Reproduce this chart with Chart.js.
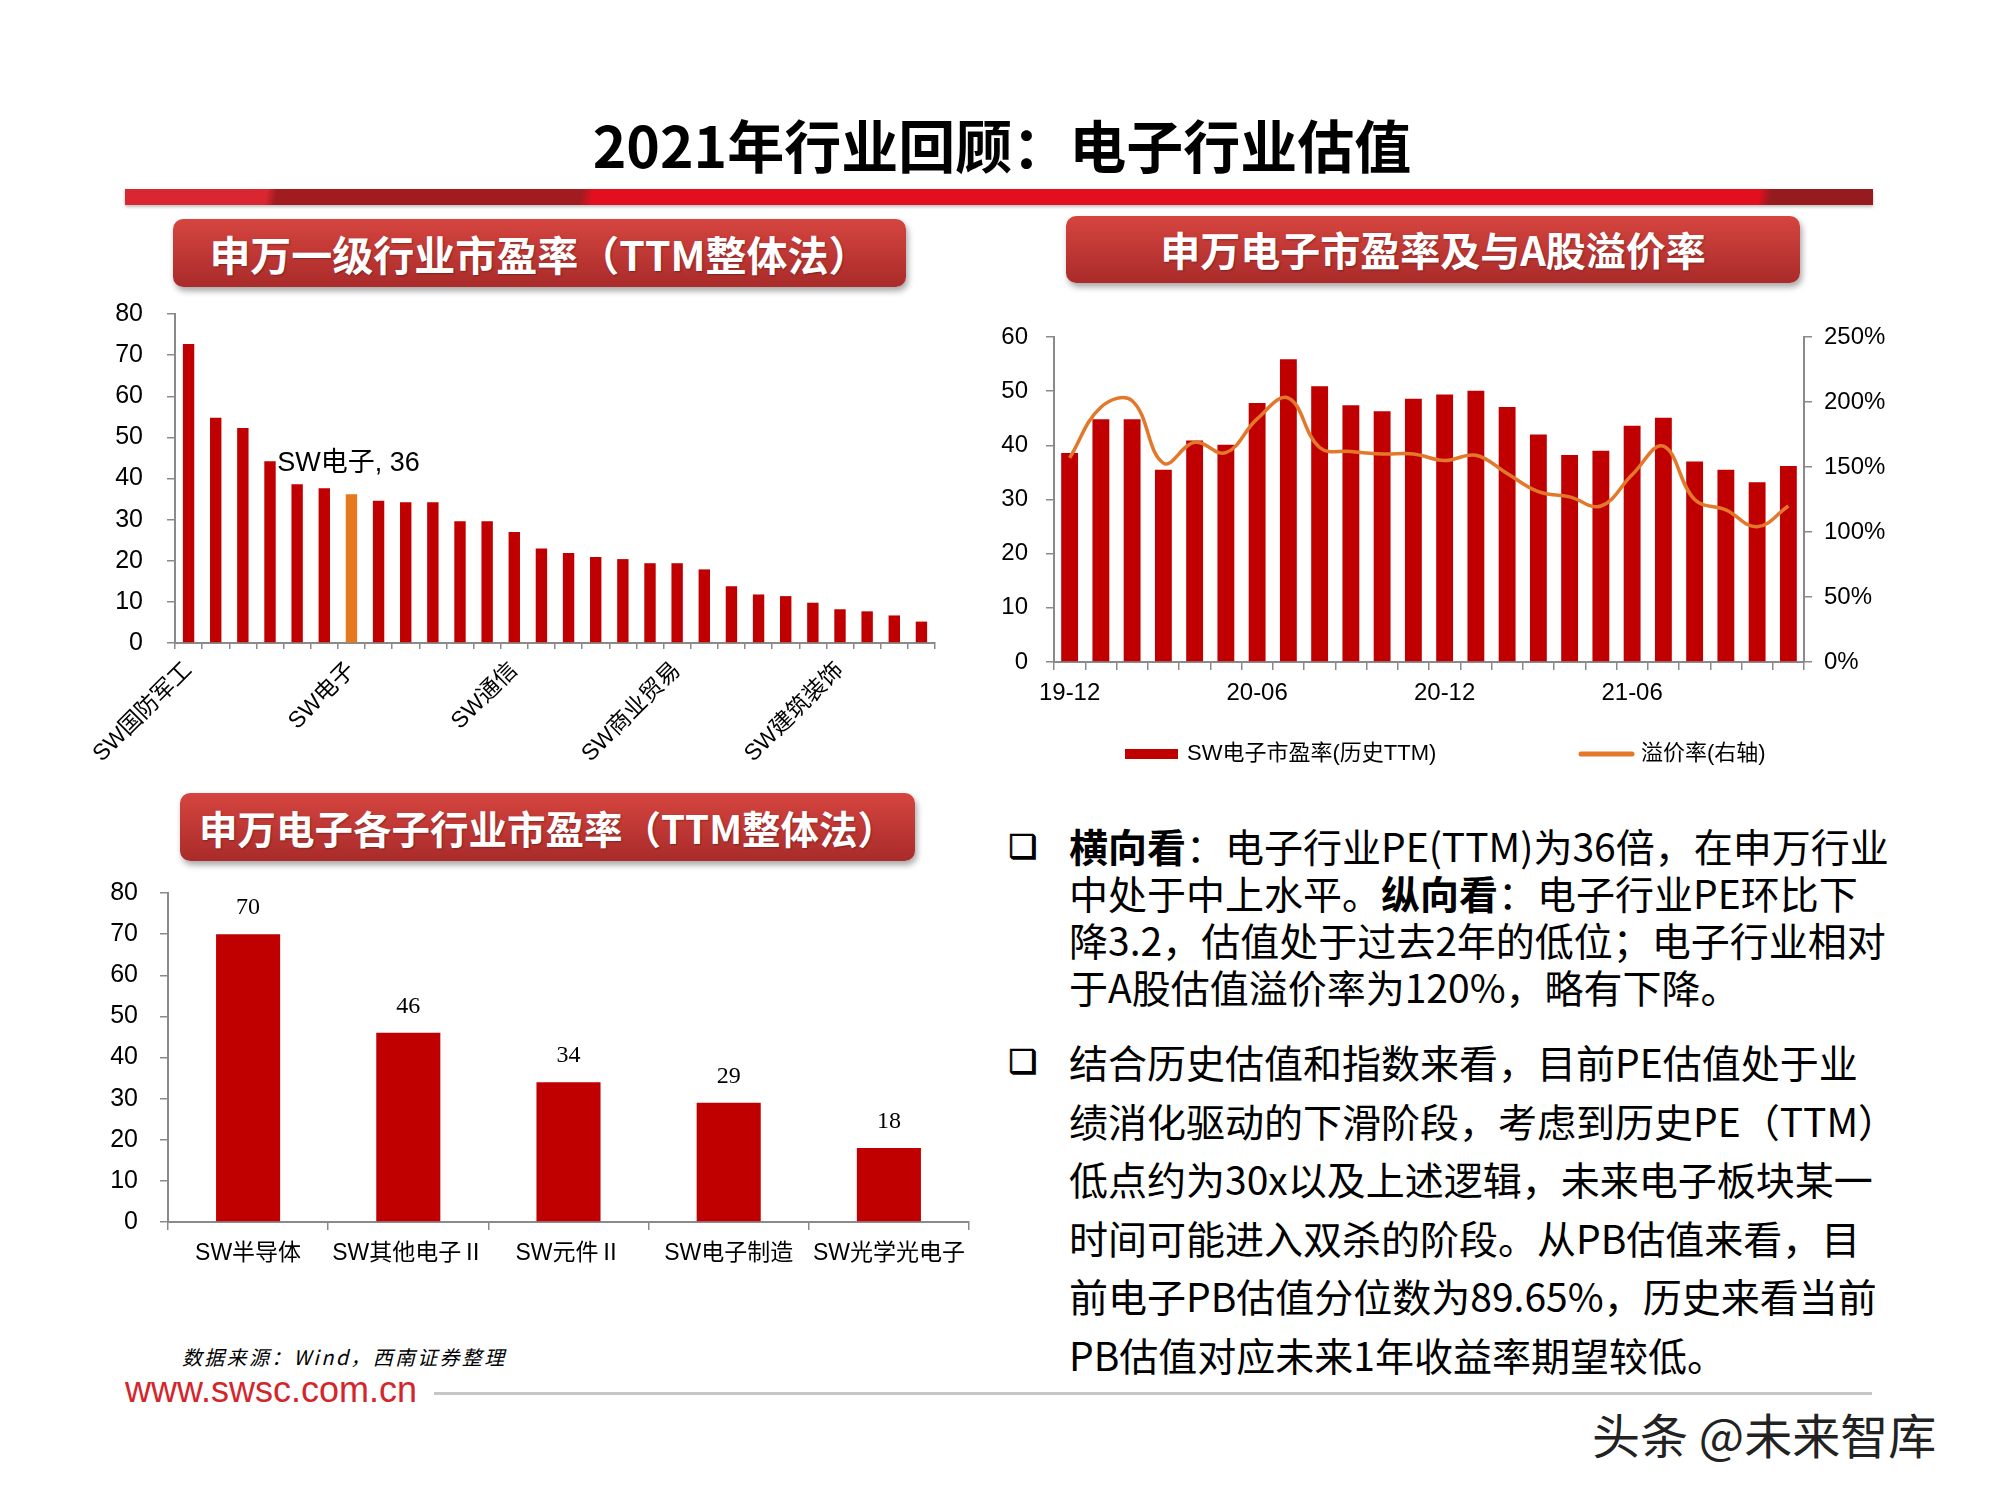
<!DOCTYPE html>
<html lang="zh-CN">
<head>
<meta charset="utf-8">
<title>2021年行业回顾：电子行业估值</title>
<script src="https://cdn.jsdelivr.net/npm/chart.js@4.4.1/dist/chart.umd.min.js"></script>
<style>
  body { margin: 0; width: 2000px; height: 1500px; background: #fff; position: relative; overflow: hidden;
         font-family: 'Noto Sans CJK SC', sans-serif; color: #000; }
  .abs { position: absolute; }
  #title { left: 0; width: 2004px; top: 106px; text-align: center; font-size: 57px; font-weight: 700; line-height: 74px; }
  #stripe { left: 125px; top: 189px; width: 1748px; height: 16px;
            background: linear-gradient(100deg, #d92630 0px, #d92630 140px, #a11c20 150px, #a11c20 450px, #e40f1e 462px, #e40f1e 1610px, #951b1f 1622px, #951b1f 1748px);
            box-shadow: 0 2px 3px rgba(0,0,0,0.25); }
  .banner { position: absolute; border-radius: 10px; background: linear-gradient(#d6453f, #a92b2a);
            box-shadow: 2px 4px 6px rgba(0,0,0,0.35); color: #fff; font-weight: 700; text-align: center;
            text-shadow: 1px 1px 2px rgba(0,0,0,0.3); white-space: nowrap; }
  canvas { position: absolute; }
  .bullet { position: absolute; font-family: 'DejaVu Sans', sans-serif; font-weight: 700; font-size: 32px; line-height: 40px;
            text-shadow: 1px 1px 0 #000; }
  .para { position: absolute; left: 1069px; font-size: 39px; white-space: nowrap; }
  .para b { font-weight: 700; }
</style>
</head>
<body>
<div id="title" class="abs">2021年行业回顾：电子行业估值</div>
<div id="stripe" class="abs"></div>

<div class="banner" style="left:173px; top:219px; width:733px; height:68px; line-height:68px; font-size:41px;">申万一级行业市盈率（TTM整体法）</div>
<div class="banner" style="left:1066px; top:216px; width:734px; height:67px; line-height:67px; font-size:40px;">申万电子市盈率及与A股溢价率</div>
<div class="banner" style="left:180px; top:793px; width:735px; height:68px; line-height:68px; font-size:38.5px;">申万电子各子行业市盈率（TTM整体法）</div>

<canvas id="industryChart" width="870" height="490" style="left:80px; top:290px;"></canvas>
<canvas id="elecChart" width="940" height="480" style="left:960px; top:310px;"></canvas>
<canvas id="subChart" width="900" height="420" style="left:100px; top:870px;"></canvas>

<div class="bullet" style="left:1008px; top:826px;">❑</div>
<div class="para" style="top:822px; line-height:47px;">
<b>横向看</b>：电子行业PE(TTM)为36倍，在申万行业<br>
中处于中上水平。<b>纵向看</b>：电子行业PE环比下<br>
降3.2，估值处于过去2年的低位；电子行业相对<br>
于A股估值溢价率为120%，略有下降。
</div>
<div class="bullet" style="left:1008px; top:1041px;">❑</div>
<div class="para" style="top:1032px; line-height:58.5px;">
结合历史估值和指数来看，目前PE估值处于业<br>
绩消化驱动的下滑阶段，考虑到历史PE（TTM）<br>
低点约为30x以及上述逻辑，未来电子板块某一<br>
时间可能进入双杀的阶段。从PB估值来看，目<br>
前电子PB估值分位数为89.65%，历史来看当前<br>
PB估值对应未来1年收益率期望较低。
</div>

<div class="abs" style="left:182px; top:1343px; font-size:20px; line-height:28px; font-style:italic; letter-spacing:2.3px;">数据来源：Wind，西南证券整理</div>
<div class="abs" style="left:125px; top:1368px; font-family:'Liberation Sans', Arial, sans-serif; font-size:36px; line-height:44px; color:#d3262c;">www.swsc.com.cn</div>
<div class="abs" style="left:434px; top:1392px; width:1438px; height:3px; background:#c6c6c6;"></div>
<div class="abs" style="left:1592px; top:1403px; font-size:48px; line-height:60px; color:#222;">头条 @未来智库</div>

<script>
// 申万一级行业市盈率（TTM整体法），只标出图上可见的行业名
const industryNames = ['SW国防军工', '', '', '', '', '', 'SW电子', '', '', '', '', '', 'SW通信', '', '',
                       '', '', '', 'SW商业贸易', '', '', '', '', '', 'SW建筑装饰', '', '', ''];
const industryPE = [72.7, 54.8, 52.3, 44.2, 38.6, 37.6, 36.2, 34.6, 34.2, 34.2, 29.6, 29.6, 27.0, 23.0,
                    21.9, 20.9, 20.4, 19.4, 19.4, 17.9, 13.8, 11.8, 11.4, 9.8, 8.2, 7.7, 6.7, 5.2];
const highlightIndex = 6; // SW电子

// 申万电子市盈率及与A股溢价率
const monthLabels = ['19-12', '20-01', '20-02', '20-03', '20-04', '20-05', '20-06', '20-07', '20-08', '20-09',
                     '20-10', '20-11', '20-12', '21-01', '21-02', '21-03', '21-04', '21-05', '21-06', '21-07',
                     '21-08', '21-09', '21-10', '21-11'];
const elecPE = [38.6, 44.8, 44.8, 35.5, 40.9, 40.1, 47.8, 55.9, 50.9, 47.4, 46.3, 48.6, 49.4, 50.1, 47.1, 42.0,
                38.2, 39.0, 43.6, 45.1, 37.0, 35.5, 33.2, 36.2];
const premiumRate = [157, 196, 201, 153, 169, 161, 187, 203, 165, 162, 160, 160, 155, 159, 145, 131, 127, 120,
                     144, 166, 125, 117, 104, 120];

// 申万电子各子行业市盈率
const subNames = ['SW半导体', 'SW其他电子Ⅱ', 'SW元件Ⅱ', 'SW电子制造', 'SW光学光电子'];
const subPE = [70, 46, 34, 29, 18];

const RED = '#C00000';
const ORANGE = '#E6781E';
const AXIS = '#8a8a8a';

Chart.defaults.font.family = "'Liberation Sans', Arial, 'Noto Sans CJK SC', sans-serif";
Chart.defaults.color = '#000';

function axisGrid(len) {
    return { drawOnChartArea: false, drawTicks: true, tickLength: len, color: AXIS, lineWidth: 1.5 };
}
const axisBorder = { display: true, color: AXIS, width: 2 };

// 固定坐标轴占位，免得标签把绘图区挤偏
function fixWidth(w) {
    return s => { s.width = w; s.paddingTop = 0; s.paddingBottom = 0; };
}
function fixHeight(h) {
    return s => { s.height = h; s.paddingLeft = 0; s.paddingRight = 0; };
}

// "SW电子, 36" 标注
const elecLabel = {
    id: 'elecLabel',
    afterDatasetsDraw(chart) {
        const bar = chart.getDatasetMeta(0).data[highlightIndex];
        const step = chart.scales.x.width / industryNames.length;
        const ctx = chart.ctx;
        ctx.save();
        ctx.font = "27px 'Liberation Sans', Arial, 'Noto Sans CJK SC', sans-serif";
        ctx.fillStyle = '#000';
        ctx.textAlign = 'left';
        ctx.textBaseline = 'middle';
        ctx.fillText(`${industryNames[highlightIndex]}, ${Math.round(industryPE[highlightIndex])}`, bar.x - 2.73 * step, bar.y - 31);
        ctx.restore();
    }
};

new Chart(document.getElementById('industryChart'), {
    type: 'bar',
    data: {
        labels: industryNames,
        datasets: [{
            data: industryPE,
            backgroundColor: industryPE.map((v, i) => i === highlightIndex ? ORANGE : RED),
            barPercentage: 0.42,
            categoryPercentage: 1
        }]
    },
    options: {
        responsive: false,
        animation: false,
        layout: { padding: { top: 24, right: 15 } },
        plugins: { legend: { display: false }, tooltip: { enabled: false } },
        scales: {
            x: {
                grid: axisGrid(6),
                border: axisBorder,
                ticks: { autoSkip: false, minRotation: 45, maxRotation: 45, padding: 8, font: { size: 23 } },
                afterFit: fixHeight(137)
            },
            y: {
                min: 0, max: 80,
                grid: axisGrid(8),
                border: axisBorder,
                ticks: { stepSize: 10, padding: 24, font: { size: 25 } },
                afterFit: fixWidth(95)
            }
        }
    },
    plugins: [elecLabel]
});

// 自绘图例
const comboLegend = {
    id: 'comboLegend',
    afterDraw(chart) {
        const ds = chart.data.datasets;
        const y = chart.chartArea.bottom + 92;
        const ctx = chart.ctx;
        ctx.save();
        ctx.fillStyle = ds[0].backgroundColor;
        ctx.fillRect(165, y - 5, 53, 10);
        ctx.strokeStyle = ds[1].borderColor;
        ctx.lineWidth = 5;
        ctx.lineCap = 'round';
        ctx.beginPath();
        ctx.moveTo(621, y);
        ctx.lineTo(672, y);
        ctx.stroke();
        ctx.font = "22px 'Liberation Sans', Arial, 'Noto Sans CJK SC', sans-serif";
        ctx.fillStyle = '#000';
        ctx.textBaseline = 'middle';
        ctx.fillText(ds[0].label, 227, y);
        ctx.fillText(ds[1].label, 681, y);
        ctx.restore();
    }
};

new Chart(document.getElementById('elecChart'), {
    type: 'bar',
    data: {
        labels: monthLabels,
        datasets: [{
            type: 'bar',
            label: 'SW电子市盈率(历史TTM)',
            data: elecPE,
            backgroundColor: RED,
            barPercentage: 0.54,
            categoryPercentage: 1,
            yAxisID: 'y',
            order: 1
        }, {
            type: 'line',
            label: '溢价率(右轴)',
            data: premiumRate,
            borderColor: '#E3782A',
            borderWidth: 3.5,
            pointRadius: 0,
            tension: 0.4,
            yAxisID: 'y1',
            order: 0
        }]
    },
    options: {
        responsive: false,
        animation: false,
        layout: { padding: { top: 27 } },
        plugins: { legend: { display: false }, tooltip: { enabled: false } },
        scales: {
            x: {
                grid: axisGrid(8),
                border: axisBorder,
                ticks: {
                    autoSkip: false, maxRotation: 0, padding: 9, font: { size: 24 },
                    callback(v, i) { return i % 6 === 0 ? this.getLabelForValue(v) : ''; }
                },
                afterFit: fixHeight(128)
            },
            y: {
                position: 'left',
                min: 0, max: 60,
                grid: axisGrid(8),
                border: axisBorder,
                ticks: { stepSize: 10, padding: 18, font: { size: 24 } },
                afterFit: fixWidth(94)
            },
            y1: {
                position: 'right',
                min: 0, max: 250,
                grid: axisGrid(8),
                border: axisBorder,
                ticks: { stepSize: 50, padding: 12, font: { size: 24 }, callback: v => v + '%' },
                afterFit: fixWidth(96)
            }
        }
    },
    plugins: [comboLegend]
});

// 柱顶数值
const valueLabels = {
    id: 'valueLabels',
    afterDatasetsDraw(chart) {
        const ctx = chart.ctx;
        ctx.save();
        ctx.font = "24px 'Liberation Serif', 'Times New Roman', serif";
        ctx.fillStyle = '#000';
        ctx.textAlign = 'center';
        ctx.textBaseline = 'bottom';
        chart.getDatasetMeta(0).data.forEach((bar, i) => {
            ctx.fillText(subPE[i], bar.x, bar.y - 14);
        });
        ctx.restore();
    }
};

new Chart(document.getElementById('subChart'), {
    type: 'bar',
    data: {
        labels: subNames,
        datasets: [{ data: subPE, backgroundColor: RED, barPercentage: 0.4, categoryPercentage: 1 }]
    },
    options: {
        responsive: false,
        animation: false,
        layout: { padding: { top: 23, right: 31 } },
        plugins: { legend: { display: false }, tooltip: { enabled: false } },
        scales: {
            x: {
                grid: axisGrid(8),
                border: axisBorder,
                ticks: { autoSkip: false, maxRotation: 0, padding: 10, font: { size: 23 } },
                afterFit: fixHeight(68)
            },
            y: {
                min: 0, max: 80,
                grid: axisGrid(8),
                border: axisBorder,
                ticks: { stepSize: 10, padding: 22, font: { size: 25 } },
                afterFit: fixWidth(68)
            }
        }
    },
    plugins: [valueLabels]
});
</script>
</body>
</html>
